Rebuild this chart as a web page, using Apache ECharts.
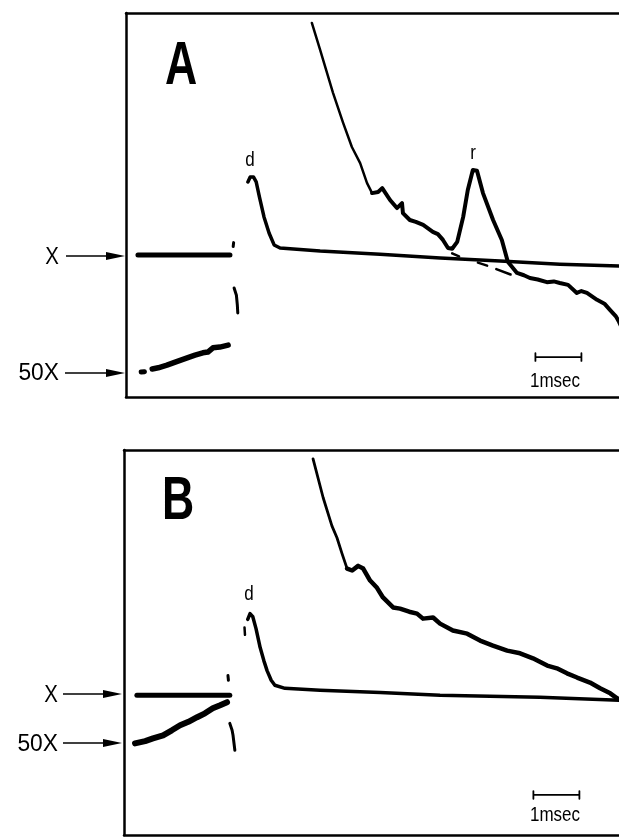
<!DOCTYPE html>
<html>
<head>
<meta charset="utf-8">
<script src="https://cdn.jsdelivr.net/npm/echarts@6/dist/echarts.min.js"></script>
<style>
html,body{margin:0;padding:0;background:#fff;}
#chart{width:619px;height:838px;}
</style>
</head>
<body>
<div id="chart"></div>
<script>
// x = time (ms) from left edge of frame, y = trace amplitude (arbitrary units, 0-100 of frame height)

// ---------- Panel A ----------
var A_xTrace = [[0.26,37.0],[2.26,37.0]];
var A_xDot = [[2.33,39.2],[2.34,40.2]];
var A_bracket = [[2.35,28.4],[2.40,26.5],[2.42,24.0],[2.43,21.9]];
var A_50xDot = [[0.33,6.5],[0.40,6.6]];
var A_50xTrace = [[0.57,7.3],[0.70,7.6],[0.89,8.3],[1.07,9.1],[1.33,10.2],[1.50,10.9],[1.67,11.5],[1.78,11.7],[1.89,12.8],[2.04,13.0],[2.22,13.5]];
var A_dTrace = [[2.65,56.0],[2.70,57.3],[2.77,57.3],[2.83,56.0],[2.90,52.1],[3.00,46.9],[3.11,42.7],[3.22,39.6],[3.35,38.8],[4.22,38.0],[5.52,37.2],[6.83,36.2],[8.13,35.4],[9.43,34.6],[10.72,34.1],[11.0,34.0]];
var A_upperEarly = [[4.04,97.4],[4.22,90.4],[4.50,79.2],[4.72,71.4],[4.91,65.1],[5.09,60.9],[5.24,55.7],[5.35,53.1]];
var A_upperLate = [[5.35,53.1],[5.48,53.4],[5.57,54.4],[5.74,51.3],[5.89,49.2],[6.00,50.5],[6.02,47.9],[6.17,46.1],[6.30,45.6],[6.46,44.8],[6.67,43.0],[6.78,42.4],[6.89,40.9],[7.00,38.8],[7.09,38.6],[7.20,40.4],[7.33,46.9],[7.43,53.9],[7.54,59.1],[7.63,58.9],[7.76,53.1],[7.98,46.1],[8.17,40.9],[8.30,35.2],[8.50,32.3],[8.65,31.7],[8.78,31.0],[8.95,30.6],[9.15,29.9],[9.30,30.1],[9.43,29.7],[9.61,29.2],[9.80,27.1],[9.90,27.6],[10.02,27.1],[10.24,25.3],[10.40,24.3],[10.52,22.7],[10.65,21.0],[10.72,19.5],[10.85,16.1]];
var A_hidden1 = [[7.09,37.4],[7.24,36.6]];
var A_hidden2 = [[7.65,35.0],[7.85,34.2]];
var A_hidden3 = [[8.05,33.3],[8.36,31.9]];
var A_scaleBar = [[8.9,11.4],[8.9,9.4],[8.9,10.4],[9.9,10.4],[9.9,11.4],[9.9,9.4]];

// ---------- Panel B ----------
var B_xTrace = [[0.28,36.3],[2.30,36.3]];
var B_xDot = [[2.26,41.4],[2.27,40.2]];
var B_bracket = [[2.30,29.0],[2.35,27.2],[2.37,25.9],[2.41,22.0]];
var B_50xTrace = [[0.24,23.8],[0.46,24.4],[0.63,25.1],[0.85,25.9],[1.04,27.2],[1.22,28.5],[1.40,29.4],[1.59,30.6],[1.76,31.6],[1.93,32.9],[2.09,33.7],[2.24,34.5]];
var B_dDash = [[2.62,53.9],[2.63,52.0]];
var B_dTrace = [[2.69,56.0],[2.74,57.5],[2.80,56.7],[2.87,53.6],[2.96,48.7],[3.04,45.3],[3.11,42.7],[3.20,40.2],[3.28,38.9],[3.50,38.1],[4.26,37.6],[5.57,37.0],[6.87,36.3],[9.04,35.8],[10.76,35.0],[11.04,35.0]];
var B_upperEarly = [[4.11,97.7],[4.33,87.6],[4.52,80.3],[4.63,77.2],[4.74,73.1],[4.85,69.2]];
var B_upperLate = [[4.85,69.2],[4.96,68.7],[5.09,69.9],[5.20,69.2],[5.35,66.1],[5.50,64.2],[5.63,61.7],[5.85,59.1],[6.00,58.8],[6.20,58.0],[6.37,57.5],[6.50,56.2],[6.72,56.5],[6.87,54.9],[7.15,53.1],[7.46,52.3],[7.74,50.5],[8.02,49.2],[8.33,47.9],[8.61,47.2],[8.89,45.9],[9.20,44.0],[9.41,43.3],[9.63,42.0],[9.85,40.9],[10.13,39.6],[10.35,38.1],[10.57,36.8],[10.72,35.5],[10.89,35.0]];
var B_scaleBar = [[8.9,11.4],[8.9,9.4],[8.9,10.4],[9.9,10.4],[9.9,11.4],[9.9,9.4]];

var panelLetters = ['A','B'];
var gainLabels = ['X','50X'];
var unitLabel = '1msec';
var xMaxA = 10.717, xMaxB = 10.761; // visible sweep (ms) at 46 px per ms

function seg(grid, data, width, dashed) {
  return {
    type: 'line', xAxisIndex: grid, yAxisIndex: grid, data: data,
    symbol: 'none', smooth: false, silent: true, animation: false, clip: true,
    lineStyle: {color: '#000', width: width, type: 'solid', cap: 'round', join: 'round'}
  };
}

var series = [
  seg(0, A_xTrace, 5), seg(0, A_xDot, 3), seg(0, A_bracket, 3),
  seg(0, A_50xDot, 5), seg(0, A_50xTrace, 5.5),
  seg(0, A_dTrace, 3.5), seg(0, A_upperEarly, 2.5), seg(0, A_upperLate, 4),
  seg(0, A_hidden1, 2.5), seg(0, A_hidden2, 2.5), seg(0, A_hidden3, 2.5),
  seg(0, A_scaleBar, 1.8),
  seg(1, B_xTrace, 5), seg(1, B_xDot, 3), seg(1, B_bracket, 3),
  seg(1, B_50xTrace, 6), seg(1, B_dDash, 2.5),
  seg(1, B_dTrace, 3.5), seg(1, B_upperEarly, 2.8), seg(1, B_upperLate, 4.5),
  seg(1, B_scaleBar, 1.8)
];

function arrow(x1, x2, y) {
  return [
    {type: 'line', shape: {x1: x1, y1: y, x2: x2 - 12, y2: y}, style: {stroke: '#000', lineWidth: 1.6}},
    {type: 'polygon', shape: {points: [[x2 - 19, y - 4], [x2, y], [x2 - 19, y + 4]]}, style: {fill: '#000'}}
  ];
}
function txt(x, y, s, size, weight, align, sx) {
  return {type: 'text', x: x, y: y, scaleX: sx || 0.85, style: {text: s, fill: '#000', font: (weight || 'normal') + ' ' + size + 'px "Liberation Sans", Arial, sans-serif', textAlign: align || 'center', textVerticalAlign: 'middle'}};
}

var graphics = [].concat(
  arrow(66, 125, 256), arrow(65, 125, 373),
  arrow(63, 122, 694), arrow(63, 122, 743),
  [
    txt(181, 67, panelLetters[0], 62, 'bold', 'center', 0.72),
    txt(178, 502, panelLetters[1], 62, 'bold', 'center', 0.72),
    txt(52, 257, gainLabels[0], 24, 'normal', 'center', 0.85), txt(59, 373, gainLabels[1], 24, 'normal', 'right', 0.95),
    txt(51, 695, gainLabels[0], 24, 'normal', 'center', 0.85), txt(58, 744, gainLabels[1], 24, 'normal', 'right', 0.95),
    txt(250, 160, 'd', 20), txt(473, 153, 'r', 20), txt(249, 594, 'd', 20),
    txt(555, 381, unitLabel, 20, 'normal', 'center', 0.85), txt(555, 815, unitLabel, 20, 'normal', 'center', 0.85)
  ]
);

var frameLine = {show: true, onZero: false, lineStyle: {color: '#000', width: 2.5}};
function xAx(g, pos, max) {
  return {type: 'value', gridIndex: g, position: pos, min: 0, max: max, axisLine: frameLine, axisTick: {show: false}, axisLabel: {show: false}, splitLine: {show: false}};
}
function yAx(g) {
  return {type: 'value', gridIndex: g, position: 'left', min: 0, max: 100, axisLine: frameLine, axisTick: {show: false}, axisLabel: {show: false}, splitLine: {show: false}};
}

var chart = echarts.init(document.getElementById('chart'), null, {renderer: 'canvas'});
chart.setOption({
  backgroundColor: '#fff',
  animation: false,
  grid: [
    {left: 126, top: 13, right: 0, height: 384, show: false},
    {left: 124, top: 450, right: 0, height: 385, show: false}
  ],
  xAxis: [xAx(0, 'bottom', xMaxA), xAx(1, 'bottom', xMaxB), xAx(0, 'top', xMaxA), xAx(1, 'top', xMaxB)],
  yAxis: [yAx(0), yAx(1)],
  series: series,
  graphic: graphics
});
</script>
</body>
</html>
